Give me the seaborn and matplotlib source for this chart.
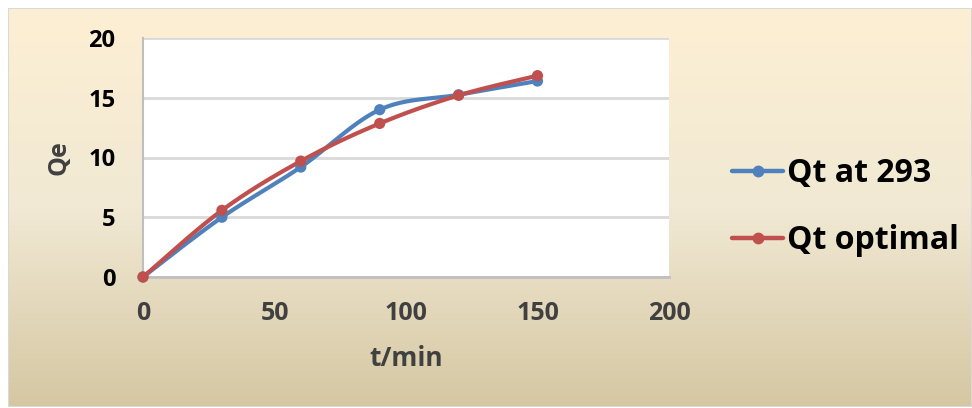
import numpy as np
import pandas as pd
import matplotlib
matplotlib.use("Agg")
import matplotlib.pyplot as plt
from matplotlib.lines import Line2D
from matplotlib.patches import Rectangle
import seaborn as sns

# Adsorption kinetics data
t_min = [0, 30, 60, 90, 120, 150]
qt_293 = [0.0, 5.0, 9.2, 14.0, 15.25, 16.4]
qt_optimal = [0.0, 5.58, 9.7, 12.85, 15.2, 16.85]
series_names = ["Qt at 293", "Qt optimal"]
series_colors = ["#4F81BD", "#C0504D"]
x_ticks = [0, 50, 100, 150, 200]
y_ticks = [0, 5, 10, 15, 20]


def smooth_curve(x, y, n=40):
    """Cardinal (Catmull-Rom) Bezier smoothing through every data point."""
    x = np.asarray(x, float)
    y = np.asarray(y, float)
    px = np.concatenate([[x[0]], x, [x[-1]]])
    py = np.concatenate([[y[0]], y, [y[-1]]])
    xs, ys = [], []
    s = np.linspace(0, 1, n)
    for i in range(1, len(px) - 2):
        p0 = np.array([px[i], py[i]])
        p3 = np.array([px[i + 1], py[i + 1]])
        c1 = p0 + (np.array([px[i + 1], py[i + 1]]) - np.array([px[i - 1], py[i - 1]])) / 6
        c2 = p3 - (np.array([px[i + 2], py[i + 2]]) - np.array([px[i], py[i]])) / 6
        b = ((1 - s)[:, None] ** 3 * p0 + 3 * ((1 - s) ** 2 * s)[:, None] * c1
             + 3 * ((1 - s) * s ** 2)[:, None] * c2 + (s ** 3)[:, None] * p3)
        xs.extend(b[:, 0])
        ys.extend(b[:, 1])
    return np.array(xs), np.array(ys)


sns.set_theme(style="white")
plt.rcParams["font.family"] = ["Open Sans", "DejaVu Sans"]

W, H = 972, 408
fig = plt.figure(figsize=(W / 100, H / 100), dpi=100)
fig.patch.set_facecolor("white")

# Gradient chart-area background
bg = fig.add_axes([8 / W, 1 / H, (W - 8) / W, (H - 9) / H], zorder=0)
top = np.array([253, 239, 211]) / 255
mid = np.array([241, 233, 212]) / 255
bot = np.array([213, 199, 162]) / 255
yy = np.linspace(0, 1, 256)[:, None]
grad = np.where(yy < 0.5, top + (mid - top) * (yy / 0.5), mid + (bot - mid) * ((yy - 0.5) / 0.5))
bg.imshow(grad[:, None, :].repeat(2, axis=1), aspect="auto", extent=[0, 1, 0, 1])
bg.add_patch(Rectangle((0, 0), 1, 1, transform=bg.transAxes, fill=False,
                       edgecolor="#D9D9D9", linewidth=1.5))
bg.set_axis_off()

ax = fig.add_axes([143 / W, 1 - 277 / H, (669 - 143) / W, (277 - 38) / H], zorder=1)
ax.set_facecolor("white")

rows = []
for name, ys in zip(series_names, [qt_293, qt_optimal]):
    sx, sy = smooth_curve(t_min, ys)
    rows.append(pd.DataFrame({"t": sx, "q": sy, "series": name}))
curves = pd.concat(rows, ignore_index=True)
points = pd.concat([pd.DataFrame({"t": t_min, "q": qt_293, "series": series_names[0]}),
                    pd.DataFrame({"t": t_min, "q": qt_optimal, "series": series_names[1]})],
                   ignore_index=True)
palette = dict(zip(series_names, series_colors))

sns.lineplot(data=curves, x="t", y="q", hue="series", palette=palette, sort=False,
             estimator=None, units="series", linewidth=3.0, legend=False, ax=ax, zorder=3)
sns.scatterplot(data=points, x="t", y="q", hue="series", palette=palette, s=65,
                edgecolor="none", legend=False, ax=ax, zorder=4, clip_on=False)

ax.set_xlim(0, 200)
ax.set_ylim(0, 20)
ax.set_xticks(x_ticks)
ax.set_yticks(y_ticks)
ax.grid(axis="y", color="#D9D9D9", linewidth=2)
ax.set_axisbelow(True)
for side in ["top", "right"]:
    ax.spines[side].set_visible(False)
ax.spines["left"].set_color("#BFBFBF")
ax.spines["left"].set_linewidth(1.5)
ax.spines["bottom"].set_color("#BFBFBF")
ax.spines["bottom"].set_linewidth(2)
ax.tick_params(axis="x", length=0, pad=17, labelsize=18, labelcolor="#404040")
ax.tick_params(axis="y", length=0, pad=20, labelsize=17, labelcolor="black")
for lab in ax.get_xticklabels() + ax.get_yticklabels():
    lab.set_fontweight("bold")
ax.set_xlabel("t/min", fontsize=19, fontweight="bold", color="#404040", labelpad=14)
ax.set_ylabel("Qe", fontsize=18, fontweight="bold", color="#404040", labelpad=12)

handles = [Line2D([0], [0], color=c, linewidth=3.2, marker="o", markersize=7.5) for c in series_colors]
leg = fig.legend(handles, series_names, loc="center left", bbox_to_anchor=(732 / W, 1 - 207 / H),
                 frameon=False, handlelength=1.6, handletextpad=0.12,
                 borderaxespad=0, borderpad=0, labelspacing=1.05,
                 prop={"weight": "bold", "size": 23})
for txt in leg.get_texts():
    txt.set_color("black")

fig.savefig("out.png", dpi=100)
